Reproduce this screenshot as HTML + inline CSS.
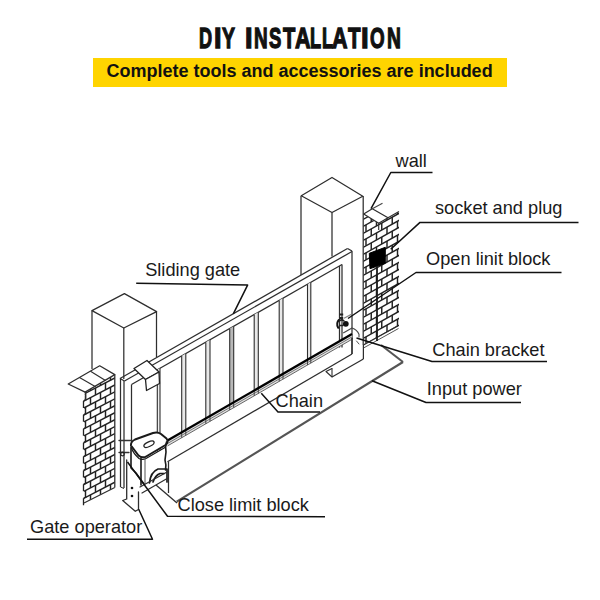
<!DOCTYPE html>
<html><head><meta charset="utf-8">
<style>
html,body{margin:0;padding:0;background:#fff;}
body{width:600px;height:600px;position:relative;overflow:hidden;font-family:"Liberation Sans",sans-serif;}
#title{position:absolute;left:0;top:0;width:600px;height:60px;}
#title span{position:absolute;top:18px;font-weight:bold;font-size:29.5px;line-height:40px;white-space:nowrap;color:#111;transform-origin:0 0;-webkit-text-stroke:1.3px #111;}
#band{position:absolute;left:93px;top:57.5px;width:413.5px;height:29.5px;background:#ffd400;}
#sub{position:absolute;left:106.5px;top:60px;font-weight:bold;font-size:18px;line-height:22px;white-space:nowrap;color:#111;}
svg{position:absolute;left:0;top:0;}
svg text{font-family:"Liberation Sans",sans-serif;font-size:18.2px;fill:#1a1a1a;}
</style></head><body>
<div id="title"><span style="left:199.48px;transform:scaleX(0.615)">D</span><span style="left:214.28px;transform:scaleX(0.917)">I</span><span style="left:222.20px;transform:scaleX(0.660)">Y</span><span style="left:244.58px;transform:scaleX(0.917)">I</span><span style="left:253.96px;transform:scaleX(0.642)">N</span><span style="left:269.30px;transform:scaleX(0.626)">S</span><span style="left:282.70px;transform:scaleX(0.683)">T</span><span style="left:294.80px;transform:scaleX(0.729)">A</span><span style="left:310.48px;transform:scaleX(0.618)">L</span><span style="left:321.98px;transform:scaleX(0.618)">L</span><span style="left:332.20px;transform:scaleX(0.729)">A</span><span style="left:347.50px;transform:scaleX(0.694)">T</span><span style="left:360.97px;transform:scaleX(0.933)">I</span><span style="left:369.86px;transform:scaleX(0.638)">O</span><span style="left:387.15px;transform:scaleX(0.653)">N</span></div>
<div id="band"></div>
<div id="sub">Complete tools and accessories are included</div>
<svg width="600" height="600" viewBox="0 0 600 600">
<defs><clipPath id="lw"><polygon points="85.5,392.1 114.8,374.6 114.8,487.5 84,503 84,396"/></clipPath><clipPath id="rw"><polygon points="363.5,214 378.7,223.3 388,217.7 399,211.5 399,326 363.5,344.5"/></clipPath></defs>
<g clip-path="url(#lw)">
<line x1="76" y1="391.21" x2="123" y2="366.77" stroke="#222" stroke-width="1.45"/>
<line x1="70.50" y1="394.07" x2="70.50" y2="401.02" stroke="#222" stroke-width="1.45"/>
<line x1="80.50" y1="388.87" x2="80.50" y2="395.82" stroke="#222" stroke-width="1.45"/>
<line x1="90.50" y1="383.67" x2="90.50" y2="390.62" stroke="#222" stroke-width="1.45"/>
<line x1="100.50" y1="378.47" x2="100.50" y2="385.42" stroke="#222" stroke-width="1.45"/>
<line x1="110.50" y1="373.27" x2="110.50" y2="380.22" stroke="#222" stroke-width="1.45"/>
<line x1="120.50" y1="368.07" x2="120.50" y2="375.02" stroke="#222" stroke-width="1.45"/>
<line x1="76" y1="398.16" x2="123" y2="373.72" stroke="#222" stroke-width="1.45"/>
<line x1="65.50" y1="403.62" x2="65.50" y2="410.57" stroke="#222" stroke-width="1.45"/>
<line x1="75.50" y1="398.42" x2="75.50" y2="405.37" stroke="#222" stroke-width="1.45"/>
<line x1="85.50" y1="393.22" x2="85.50" y2="400.17" stroke="#222" stroke-width="1.45"/>
<line x1="95.50" y1="388.02" x2="95.50" y2="394.97" stroke="#222" stroke-width="1.45"/>
<line x1="105.50" y1="382.82" x2="105.50" y2="389.77" stroke="#222" stroke-width="1.45"/>
<line x1="115.50" y1="377.62" x2="115.50" y2="384.57" stroke="#222" stroke-width="1.45"/>
<line x1="76" y1="405.11" x2="123" y2="380.67" stroke="#222" stroke-width="1.45"/>
<line x1="70.50" y1="407.97" x2="70.50" y2="414.92" stroke="#222" stroke-width="1.45"/>
<line x1="80.50" y1="402.77" x2="80.50" y2="409.72" stroke="#222" stroke-width="1.45"/>
<line x1="90.50" y1="397.57" x2="90.50" y2="404.52" stroke="#222" stroke-width="1.45"/>
<line x1="100.50" y1="392.37" x2="100.50" y2="399.32" stroke="#222" stroke-width="1.45"/>
<line x1="110.50" y1="387.17" x2="110.50" y2="394.12" stroke="#222" stroke-width="1.45"/>
<line x1="120.50" y1="381.97" x2="120.50" y2="388.92" stroke="#222" stroke-width="1.45"/>
<line x1="76" y1="412.06" x2="123" y2="387.62" stroke="#222" stroke-width="1.45"/>
<line x1="65.50" y1="417.52" x2="65.50" y2="424.47" stroke="#222" stroke-width="1.45"/>
<line x1="75.50" y1="412.32" x2="75.50" y2="419.27" stroke="#222" stroke-width="1.45"/>
<line x1="85.50" y1="407.12" x2="85.50" y2="414.07" stroke="#222" stroke-width="1.45"/>
<line x1="95.50" y1="401.92" x2="95.50" y2="408.87" stroke="#222" stroke-width="1.45"/>
<line x1="105.50" y1="396.72" x2="105.50" y2="403.67" stroke="#222" stroke-width="1.45"/>
<line x1="115.50" y1="391.52" x2="115.50" y2="398.47" stroke="#222" stroke-width="1.45"/>
<line x1="76" y1="419.01" x2="123" y2="394.57" stroke="#222" stroke-width="1.45"/>
<line x1="70.50" y1="421.87" x2="70.50" y2="428.82" stroke="#222" stroke-width="1.45"/>
<line x1="80.50" y1="416.67" x2="80.50" y2="423.62" stroke="#222" stroke-width="1.45"/>
<line x1="90.50" y1="411.47" x2="90.50" y2="418.42" stroke="#222" stroke-width="1.45"/>
<line x1="100.50" y1="406.27" x2="100.50" y2="413.22" stroke="#222" stroke-width="1.45"/>
<line x1="110.50" y1="401.07" x2="110.50" y2="408.02" stroke="#222" stroke-width="1.45"/>
<line x1="120.50" y1="395.87" x2="120.50" y2="402.82" stroke="#222" stroke-width="1.45"/>
<line x1="76" y1="425.96" x2="123" y2="401.52" stroke="#222" stroke-width="1.45"/>
<line x1="65.50" y1="431.42" x2="65.50" y2="438.37" stroke="#222" stroke-width="1.45"/>
<line x1="75.50" y1="426.22" x2="75.50" y2="433.17" stroke="#222" stroke-width="1.45"/>
<line x1="85.50" y1="421.02" x2="85.50" y2="427.97" stroke="#222" stroke-width="1.45"/>
<line x1="95.50" y1="415.82" x2="95.50" y2="422.77" stroke="#222" stroke-width="1.45"/>
<line x1="105.50" y1="410.62" x2="105.50" y2="417.57" stroke="#222" stroke-width="1.45"/>
<line x1="115.50" y1="405.42" x2="115.50" y2="412.37" stroke="#222" stroke-width="1.45"/>
<line x1="76" y1="432.91" x2="123" y2="408.47" stroke="#222" stroke-width="1.45"/>
<line x1="70.50" y1="435.77" x2="70.50" y2="442.72" stroke="#222" stroke-width="1.45"/>
<line x1="80.50" y1="430.57" x2="80.50" y2="437.52" stroke="#222" stroke-width="1.45"/>
<line x1="90.50" y1="425.37" x2="90.50" y2="432.32" stroke="#222" stroke-width="1.45"/>
<line x1="100.50" y1="420.17" x2="100.50" y2="427.12" stroke="#222" stroke-width="1.45"/>
<line x1="110.50" y1="414.97" x2="110.50" y2="421.92" stroke="#222" stroke-width="1.45"/>
<line x1="120.50" y1="409.77" x2="120.50" y2="416.72" stroke="#222" stroke-width="1.45"/>
<line x1="76" y1="439.86" x2="123" y2="415.42" stroke="#222" stroke-width="1.45"/>
<line x1="65.50" y1="445.32" x2="65.50" y2="452.27" stroke="#222" stroke-width="1.45"/>
<line x1="75.50" y1="440.12" x2="75.50" y2="447.07" stroke="#222" stroke-width="1.45"/>
<line x1="85.50" y1="434.92" x2="85.50" y2="441.87" stroke="#222" stroke-width="1.45"/>
<line x1="95.50" y1="429.72" x2="95.50" y2="436.67" stroke="#222" stroke-width="1.45"/>
<line x1="105.50" y1="424.52" x2="105.50" y2="431.47" stroke="#222" stroke-width="1.45"/>
<line x1="115.50" y1="419.32" x2="115.50" y2="426.27" stroke="#222" stroke-width="1.45"/>
<line x1="76" y1="446.81" x2="123" y2="422.37" stroke="#222" stroke-width="1.45"/>
<line x1="70.50" y1="449.67" x2="70.50" y2="456.62" stroke="#222" stroke-width="1.45"/>
<line x1="80.50" y1="444.47" x2="80.50" y2="451.42" stroke="#222" stroke-width="1.45"/>
<line x1="90.50" y1="439.27" x2="90.50" y2="446.22" stroke="#222" stroke-width="1.45"/>
<line x1="100.50" y1="434.07" x2="100.50" y2="441.02" stroke="#222" stroke-width="1.45"/>
<line x1="110.50" y1="428.87" x2="110.50" y2="435.82" stroke="#222" stroke-width="1.45"/>
<line x1="120.50" y1="423.67" x2="120.50" y2="430.62" stroke="#222" stroke-width="1.45"/>
<line x1="76" y1="453.76" x2="123" y2="429.32" stroke="#222" stroke-width="1.45"/>
<line x1="65.50" y1="459.22" x2="65.50" y2="466.17" stroke="#222" stroke-width="1.45"/>
<line x1="75.50" y1="454.02" x2="75.50" y2="460.97" stroke="#222" stroke-width="1.45"/>
<line x1="85.50" y1="448.82" x2="85.50" y2="455.77" stroke="#222" stroke-width="1.45"/>
<line x1="95.50" y1="443.62" x2="95.50" y2="450.57" stroke="#222" stroke-width="1.45"/>
<line x1="105.50" y1="438.42" x2="105.50" y2="445.37" stroke="#222" stroke-width="1.45"/>
<line x1="115.50" y1="433.22" x2="115.50" y2="440.17" stroke="#222" stroke-width="1.45"/>
<line x1="76" y1="460.71" x2="123" y2="436.27" stroke="#222" stroke-width="1.45"/>
<line x1="70.50" y1="463.57" x2="70.50" y2="470.52" stroke="#222" stroke-width="1.45"/>
<line x1="80.50" y1="458.37" x2="80.50" y2="465.32" stroke="#222" stroke-width="1.45"/>
<line x1="90.50" y1="453.17" x2="90.50" y2="460.12" stroke="#222" stroke-width="1.45"/>
<line x1="100.50" y1="447.97" x2="100.50" y2="454.92" stroke="#222" stroke-width="1.45"/>
<line x1="110.50" y1="442.77" x2="110.50" y2="449.72" stroke="#222" stroke-width="1.45"/>
<line x1="120.50" y1="437.57" x2="120.50" y2="444.52" stroke="#222" stroke-width="1.45"/>
<line x1="76" y1="467.66" x2="123" y2="443.22" stroke="#222" stroke-width="1.45"/>
<line x1="65.50" y1="473.12" x2="65.50" y2="480.07" stroke="#222" stroke-width="1.45"/>
<line x1="75.50" y1="467.92" x2="75.50" y2="474.87" stroke="#222" stroke-width="1.45"/>
<line x1="85.50" y1="462.72" x2="85.50" y2="469.67" stroke="#222" stroke-width="1.45"/>
<line x1="95.50" y1="457.52" x2="95.50" y2="464.47" stroke="#222" stroke-width="1.45"/>
<line x1="105.50" y1="452.32" x2="105.50" y2="459.27" stroke="#222" stroke-width="1.45"/>
<line x1="115.50" y1="447.12" x2="115.50" y2="454.07" stroke="#222" stroke-width="1.45"/>
<line x1="76" y1="474.61" x2="123" y2="450.17" stroke="#222" stroke-width="1.45"/>
<line x1="70.50" y1="477.47" x2="70.50" y2="484.42" stroke="#222" stroke-width="1.45"/>
<line x1="80.50" y1="472.27" x2="80.50" y2="479.22" stroke="#222" stroke-width="1.45"/>
<line x1="90.50" y1="467.07" x2="90.50" y2="474.02" stroke="#222" stroke-width="1.45"/>
<line x1="100.50" y1="461.87" x2="100.50" y2="468.82" stroke="#222" stroke-width="1.45"/>
<line x1="110.50" y1="456.67" x2="110.50" y2="463.62" stroke="#222" stroke-width="1.45"/>
<line x1="120.50" y1="451.47" x2="120.50" y2="458.42" stroke="#222" stroke-width="1.45"/>
<line x1="76" y1="481.56" x2="123" y2="457.12" stroke="#222" stroke-width="1.45"/>
<line x1="65.50" y1="487.02" x2="65.50" y2="493.97" stroke="#222" stroke-width="1.45"/>
<line x1="75.50" y1="481.82" x2="75.50" y2="488.77" stroke="#222" stroke-width="1.45"/>
<line x1="85.50" y1="476.62" x2="85.50" y2="483.57" stroke="#222" stroke-width="1.45"/>
<line x1="95.50" y1="471.42" x2="95.50" y2="478.37" stroke="#222" stroke-width="1.45"/>
<line x1="105.50" y1="466.22" x2="105.50" y2="473.17" stroke="#222" stroke-width="1.45"/>
<line x1="115.50" y1="461.02" x2="115.50" y2="467.97" stroke="#222" stroke-width="1.45"/>
<line x1="76" y1="488.51" x2="123" y2="464.07" stroke="#222" stroke-width="1.45"/>
<line x1="70.50" y1="491.37" x2="70.50" y2="498.32" stroke="#222" stroke-width="1.45"/>
<line x1="80.50" y1="486.17" x2="80.50" y2="493.12" stroke="#222" stroke-width="1.45"/>
<line x1="90.50" y1="480.97" x2="90.50" y2="487.92" stroke="#222" stroke-width="1.45"/>
<line x1="100.50" y1="475.77" x2="100.50" y2="482.72" stroke="#222" stroke-width="1.45"/>
<line x1="110.50" y1="470.57" x2="110.50" y2="477.52" stroke="#222" stroke-width="1.45"/>
<line x1="120.50" y1="465.37" x2="120.50" y2="472.32" stroke="#222" stroke-width="1.45"/>
<line x1="76" y1="495.46" x2="123" y2="471.02" stroke="#222" stroke-width="1.45"/>
<line x1="65.50" y1="500.92" x2="65.50" y2="507.87" stroke="#222" stroke-width="1.45"/>
<line x1="75.50" y1="495.72" x2="75.50" y2="502.67" stroke="#222" stroke-width="1.45"/>
<line x1="85.50" y1="490.52" x2="85.50" y2="497.47" stroke="#222" stroke-width="1.45"/>
<line x1="95.50" y1="485.32" x2="95.50" y2="492.27" stroke="#222" stroke-width="1.45"/>
<line x1="105.50" y1="480.12" x2="105.50" y2="487.07" stroke="#222" stroke-width="1.45"/>
<line x1="115.50" y1="474.92" x2="115.50" y2="481.87" stroke="#222" stroke-width="1.45"/>
<line x1="76" y1="502.41" x2="123" y2="477.97" stroke="#222" stroke-width="1.45"/>
<line x1="70.50" y1="505.27" x2="70.50" y2="512.22" stroke="#222" stroke-width="1.45"/>
<line x1="80.50" y1="500.07" x2="80.50" y2="507.02" stroke="#222" stroke-width="1.45"/>
<line x1="90.50" y1="494.87" x2="90.50" y2="501.82" stroke="#222" stroke-width="1.45"/>
<line x1="100.50" y1="489.67" x2="100.50" y2="496.62" stroke="#222" stroke-width="1.45"/>
<line x1="110.50" y1="484.47" x2="110.50" y2="491.42" stroke="#222" stroke-width="1.45"/>
<line x1="120.50" y1="479.27" x2="120.50" y2="486.22" stroke="#222" stroke-width="1.45"/>
<line x1="76" y1="509.36" x2="123" y2="484.92" stroke="#222" stroke-width="1.45"/>
<line x1="65.50" y1="514.82" x2="65.50" y2="521.77" stroke="#222" stroke-width="1.45"/>
<line x1="75.50" y1="509.62" x2="75.50" y2="516.57" stroke="#222" stroke-width="1.45"/>
<line x1="85.50" y1="504.42" x2="85.50" y2="511.37" stroke="#222" stroke-width="1.45"/>
<line x1="95.50" y1="499.22" x2="95.50" y2="506.17" stroke="#222" stroke-width="1.45"/>
<line x1="105.50" y1="494.02" x2="105.50" y2="500.97" stroke="#222" stroke-width="1.45"/>
<line x1="115.50" y1="488.82" x2="115.50" y2="495.77" stroke="#222" stroke-width="1.45"/>
<line x1="76" y1="516.31" x2="123" y2="491.87" stroke="#222" stroke-width="1.45"/>
<line x1="70.50" y1="519.17" x2="70.50" y2="526.12" stroke="#222" stroke-width="1.45"/>
<line x1="80.50" y1="513.97" x2="80.50" y2="520.92" stroke="#222" stroke-width="1.45"/>
<line x1="90.50" y1="508.77" x2="90.50" y2="515.72" stroke="#222" stroke-width="1.45"/>
<line x1="100.50" y1="503.57" x2="100.50" y2="510.52" stroke="#222" stroke-width="1.45"/>
<line x1="110.50" y1="498.37" x2="110.50" y2="505.32" stroke="#222" stroke-width="1.45"/>
<line x1="120.50" y1="493.17" x2="120.50" y2="500.12" stroke="#222" stroke-width="1.45"/>
</g>
<path d="M83.5,400.95 L86.5,399.45 M83.5,400.95 L83.5,407.90" stroke="#222" stroke-width="1.3" fill="none"/>
<path d="M83.5,414.85 L86.5,413.35 M83.5,414.85 L83.5,421.80" stroke="#222" stroke-width="1.3" fill="none"/>
<path d="M83.5,428.75 L86.5,427.25 M83.5,428.75 L83.5,435.70" stroke="#222" stroke-width="1.3" fill="none"/>
<path d="M83.5,442.65 L86.5,441.15 M83.5,442.65 L83.5,449.60" stroke="#222" stroke-width="1.3" fill="none"/>
<path d="M83.5,456.55 L86.5,455.05 M83.5,456.55 L83.5,463.50" stroke="#222" stroke-width="1.3" fill="none"/>
<path d="M83.5,470.45 L86.5,468.95 M83.5,470.45 L83.5,477.40" stroke="#222" stroke-width="1.3" fill="none"/>
<path d="M83.5,484.35 L86.5,482.85 M83.5,484.35 L83.5,491.30" stroke="#222" stroke-width="1.3" fill="none"/>
<path d="M83.5,498.25 L86.5,496.75 M83.5,498.25 L83.5,505.20" stroke="#222" stroke-width="1.3" fill="none"/>
<polygon points="68.20,384.00 99.70,365.80 114.80,374.60 85.10,392.10" fill="#fff" stroke="#2e2e2e" stroke-width="1.25" stroke-linejoin="round" />
<line x1="79.50" y1="377.50" x2="95.60" y2="386.80" stroke="#2e2e2e" stroke-width="1.15" />
<line x1="90.50" y1="371.20" x2="105.50" y2="380.50" stroke="#2e2e2e" stroke-width="1.15" />
<line x1="114.80" y1="374.60" x2="114.80" y2="487.50" stroke="#2e2e2e" stroke-width="1.25" />
<line x1="114.80" y1="487.50" x2="84.00" y2="503.00" stroke="#2e2e2e" stroke-width="1.25" />
<path d="M85.1,392.1 Q86,394 85.5,400" fill="none" stroke="#2e2e2e" stroke-width="1.25" stroke-linejoin="round" stroke-linecap="round" />
<g clip-path="url(#rw)">
<line x1="355" y1="223.98" x2="407" y2="194.86" stroke="#222" stroke-width="1.45"/>
<line x1="350.25" y1="226.64" x2="350.25" y2="233.64" stroke="#222" stroke-width="1.45"/>
<line x1="360.75" y1="220.76" x2="360.75" y2="227.76" stroke="#222" stroke-width="1.45"/>
<line x1="371.25" y1="214.88" x2="371.25" y2="221.88" stroke="#222" stroke-width="1.45"/>
<line x1="381.75" y1="209.00" x2="381.75" y2="216.00" stroke="#222" stroke-width="1.45"/>
<line x1="392.25" y1="203.12" x2="392.25" y2="210.12" stroke="#222" stroke-width="1.45"/>
<line x1="402.75" y1="197.24" x2="402.75" y2="204.24" stroke="#222" stroke-width="1.45"/>
<line x1="355" y1="230.98" x2="407" y2="201.86" stroke="#222" stroke-width="1.45"/>
<line x1="345.00" y1="236.58" x2="345.00" y2="243.58" stroke="#222" stroke-width="1.45"/>
<line x1="355.50" y1="230.70" x2="355.50" y2="237.70" stroke="#222" stroke-width="1.45"/>
<line x1="366.00" y1="224.82" x2="366.00" y2="231.82" stroke="#222" stroke-width="1.45"/>
<line x1="376.50" y1="218.94" x2="376.50" y2="225.94" stroke="#222" stroke-width="1.45"/>
<line x1="387.00" y1="213.06" x2="387.00" y2="220.06" stroke="#222" stroke-width="1.45"/>
<line x1="397.50" y1="207.18" x2="397.50" y2="214.18" stroke="#222" stroke-width="1.45"/>
<line x1="408.00" y1="201.30" x2="408.00" y2="208.30" stroke="#222" stroke-width="1.45"/>
<line x1="355" y1="237.98" x2="407" y2="208.86" stroke="#222" stroke-width="1.45"/>
<line x1="350.25" y1="240.64" x2="350.25" y2="247.64" stroke="#222" stroke-width="1.45"/>
<line x1="360.75" y1="234.76" x2="360.75" y2="241.76" stroke="#222" stroke-width="1.45"/>
<line x1="371.25" y1="228.88" x2="371.25" y2="235.88" stroke="#222" stroke-width="1.45"/>
<line x1="381.75" y1="223.00" x2="381.75" y2="230.00" stroke="#222" stroke-width="1.45"/>
<line x1="392.25" y1="217.12" x2="392.25" y2="224.12" stroke="#222" stroke-width="1.45"/>
<line x1="402.75" y1="211.24" x2="402.75" y2="218.24" stroke="#222" stroke-width="1.45"/>
<line x1="355" y1="244.98" x2="407" y2="215.86" stroke="#222" stroke-width="1.45"/>
<line x1="345.00" y1="250.58" x2="345.00" y2="257.58" stroke="#222" stroke-width="1.45"/>
<line x1="355.50" y1="244.70" x2="355.50" y2="251.70" stroke="#222" stroke-width="1.45"/>
<line x1="366.00" y1="238.82" x2="366.00" y2="245.82" stroke="#222" stroke-width="1.45"/>
<line x1="376.50" y1="232.94" x2="376.50" y2="239.94" stroke="#222" stroke-width="1.45"/>
<line x1="387.00" y1="227.06" x2="387.00" y2="234.06" stroke="#222" stroke-width="1.45"/>
<line x1="397.50" y1="221.18" x2="397.50" y2="228.18" stroke="#222" stroke-width="1.45"/>
<line x1="408.00" y1="215.30" x2="408.00" y2="222.30" stroke="#222" stroke-width="1.45"/>
<line x1="355" y1="251.98" x2="407" y2="222.86" stroke="#222" stroke-width="1.45"/>
<line x1="350.25" y1="254.64" x2="350.25" y2="261.64" stroke="#222" stroke-width="1.45"/>
<line x1="360.75" y1="248.76" x2="360.75" y2="255.76" stroke="#222" stroke-width="1.45"/>
<line x1="371.25" y1="242.88" x2="371.25" y2="249.88" stroke="#222" stroke-width="1.45"/>
<line x1="381.75" y1="237.00" x2="381.75" y2="244.00" stroke="#222" stroke-width="1.45"/>
<line x1="392.25" y1="231.12" x2="392.25" y2="238.12" stroke="#222" stroke-width="1.45"/>
<line x1="402.75" y1="225.24" x2="402.75" y2="232.24" stroke="#222" stroke-width="1.45"/>
<line x1="355" y1="258.98" x2="407" y2="229.86" stroke="#222" stroke-width="1.45"/>
<line x1="345.00" y1="264.58" x2="345.00" y2="271.58" stroke="#222" stroke-width="1.45"/>
<line x1="355.50" y1="258.70" x2="355.50" y2="265.70" stroke="#222" stroke-width="1.45"/>
<line x1="366.00" y1="252.82" x2="366.00" y2="259.82" stroke="#222" stroke-width="1.45"/>
<line x1="376.50" y1="246.94" x2="376.50" y2="253.94" stroke="#222" stroke-width="1.45"/>
<line x1="387.00" y1="241.06" x2="387.00" y2="248.06" stroke="#222" stroke-width="1.45"/>
<line x1="397.50" y1="235.18" x2="397.50" y2="242.18" stroke="#222" stroke-width="1.45"/>
<line x1="408.00" y1="229.30" x2="408.00" y2="236.30" stroke="#222" stroke-width="1.45"/>
<line x1="355" y1="265.98" x2="407" y2="236.86" stroke="#222" stroke-width="1.45"/>
<line x1="350.25" y1="268.64" x2="350.25" y2="275.64" stroke="#222" stroke-width="1.45"/>
<line x1="360.75" y1="262.76" x2="360.75" y2="269.76" stroke="#222" stroke-width="1.45"/>
<line x1="371.25" y1="256.88" x2="371.25" y2="263.88" stroke="#222" stroke-width="1.45"/>
<line x1="381.75" y1="251.00" x2="381.75" y2="258.00" stroke="#222" stroke-width="1.45"/>
<line x1="392.25" y1="245.12" x2="392.25" y2="252.12" stroke="#222" stroke-width="1.45"/>
<line x1="402.75" y1="239.24" x2="402.75" y2="246.24" stroke="#222" stroke-width="1.45"/>
<line x1="355" y1="272.98" x2="407" y2="243.86" stroke="#222" stroke-width="1.45"/>
<line x1="345.00" y1="278.58" x2="345.00" y2="285.58" stroke="#222" stroke-width="1.45"/>
<line x1="355.50" y1="272.70" x2="355.50" y2="279.70" stroke="#222" stroke-width="1.45"/>
<line x1="366.00" y1="266.82" x2="366.00" y2="273.82" stroke="#222" stroke-width="1.45"/>
<line x1="376.50" y1="260.94" x2="376.50" y2="267.94" stroke="#222" stroke-width="1.45"/>
<line x1="387.00" y1="255.06" x2="387.00" y2="262.06" stroke="#222" stroke-width="1.45"/>
<line x1="397.50" y1="249.18" x2="397.50" y2="256.18" stroke="#222" stroke-width="1.45"/>
<line x1="408.00" y1="243.30" x2="408.00" y2="250.30" stroke="#222" stroke-width="1.45"/>
<line x1="355" y1="279.98" x2="407" y2="250.86" stroke="#222" stroke-width="1.45"/>
<line x1="350.25" y1="282.64" x2="350.25" y2="289.64" stroke="#222" stroke-width="1.45"/>
<line x1="360.75" y1="276.76" x2="360.75" y2="283.76" stroke="#222" stroke-width="1.45"/>
<line x1="371.25" y1="270.88" x2="371.25" y2="277.88" stroke="#222" stroke-width="1.45"/>
<line x1="381.75" y1="265.00" x2="381.75" y2="272.00" stroke="#222" stroke-width="1.45"/>
<line x1="392.25" y1="259.12" x2="392.25" y2="266.12" stroke="#222" stroke-width="1.45"/>
<line x1="402.75" y1="253.24" x2="402.75" y2="260.24" stroke="#222" stroke-width="1.45"/>
<line x1="355" y1="286.98" x2="407" y2="257.86" stroke="#222" stroke-width="1.45"/>
<line x1="345.00" y1="292.58" x2="345.00" y2="299.58" stroke="#222" stroke-width="1.45"/>
<line x1="355.50" y1="286.70" x2="355.50" y2="293.70" stroke="#222" stroke-width="1.45"/>
<line x1="366.00" y1="280.82" x2="366.00" y2="287.82" stroke="#222" stroke-width="1.45"/>
<line x1="376.50" y1="274.94" x2="376.50" y2="281.94" stroke="#222" stroke-width="1.45"/>
<line x1="387.00" y1="269.06" x2="387.00" y2="276.06" stroke="#222" stroke-width="1.45"/>
<line x1="397.50" y1="263.18" x2="397.50" y2="270.18" stroke="#222" stroke-width="1.45"/>
<line x1="408.00" y1="257.30" x2="408.00" y2="264.30" stroke="#222" stroke-width="1.45"/>
<line x1="355" y1="293.98" x2="407" y2="264.86" stroke="#222" stroke-width="1.45"/>
<line x1="350.25" y1="296.64" x2="350.25" y2="303.64" stroke="#222" stroke-width="1.45"/>
<line x1="360.75" y1="290.76" x2="360.75" y2="297.76" stroke="#222" stroke-width="1.45"/>
<line x1="371.25" y1="284.88" x2="371.25" y2="291.88" stroke="#222" stroke-width="1.45"/>
<line x1="381.75" y1="279.00" x2="381.75" y2="286.00" stroke="#222" stroke-width="1.45"/>
<line x1="392.25" y1="273.12" x2="392.25" y2="280.12" stroke="#222" stroke-width="1.45"/>
<line x1="402.75" y1="267.24" x2="402.75" y2="274.24" stroke="#222" stroke-width="1.45"/>
<line x1="355" y1="300.98" x2="407" y2="271.86" stroke="#222" stroke-width="1.45"/>
<line x1="345.00" y1="306.58" x2="345.00" y2="313.58" stroke="#222" stroke-width="1.45"/>
<line x1="355.50" y1="300.70" x2="355.50" y2="307.70" stroke="#222" stroke-width="1.45"/>
<line x1="366.00" y1="294.82" x2="366.00" y2="301.82" stroke="#222" stroke-width="1.45"/>
<line x1="376.50" y1="288.94" x2="376.50" y2="295.94" stroke="#222" stroke-width="1.45"/>
<line x1="387.00" y1="283.06" x2="387.00" y2="290.06" stroke="#222" stroke-width="1.45"/>
<line x1="397.50" y1="277.18" x2="397.50" y2="284.18" stroke="#222" stroke-width="1.45"/>
<line x1="408.00" y1="271.30" x2="408.00" y2="278.30" stroke="#222" stroke-width="1.45"/>
<line x1="355" y1="307.98" x2="407" y2="278.86" stroke="#222" stroke-width="1.45"/>
<line x1="350.25" y1="310.64" x2="350.25" y2="317.64" stroke="#222" stroke-width="1.45"/>
<line x1="360.75" y1="304.76" x2="360.75" y2="311.76" stroke="#222" stroke-width="1.45"/>
<line x1="371.25" y1="298.88" x2="371.25" y2="305.88" stroke="#222" stroke-width="1.45"/>
<line x1="381.75" y1="293.00" x2="381.75" y2="300.00" stroke="#222" stroke-width="1.45"/>
<line x1="392.25" y1="287.12" x2="392.25" y2="294.12" stroke="#222" stroke-width="1.45"/>
<line x1="402.75" y1="281.24" x2="402.75" y2="288.24" stroke="#222" stroke-width="1.45"/>
<line x1="355" y1="314.98" x2="407" y2="285.86" stroke="#222" stroke-width="1.45"/>
<line x1="345.00" y1="320.58" x2="345.00" y2="327.58" stroke="#222" stroke-width="1.45"/>
<line x1="355.50" y1="314.70" x2="355.50" y2="321.70" stroke="#222" stroke-width="1.45"/>
<line x1="366.00" y1="308.82" x2="366.00" y2="315.82" stroke="#222" stroke-width="1.45"/>
<line x1="376.50" y1="302.94" x2="376.50" y2="309.94" stroke="#222" stroke-width="1.45"/>
<line x1="387.00" y1="297.06" x2="387.00" y2="304.06" stroke="#222" stroke-width="1.45"/>
<line x1="397.50" y1="291.18" x2="397.50" y2="298.18" stroke="#222" stroke-width="1.45"/>
<line x1="408.00" y1="285.30" x2="408.00" y2="292.30" stroke="#222" stroke-width="1.45"/>
<line x1="355" y1="321.98" x2="407" y2="292.86" stroke="#222" stroke-width="1.45"/>
<line x1="350.25" y1="324.64" x2="350.25" y2="331.64" stroke="#222" stroke-width="1.45"/>
<line x1="360.75" y1="318.76" x2="360.75" y2="325.76" stroke="#222" stroke-width="1.45"/>
<line x1="371.25" y1="312.88" x2="371.25" y2="319.88" stroke="#222" stroke-width="1.45"/>
<line x1="381.75" y1="307.00" x2="381.75" y2="314.00" stroke="#222" stroke-width="1.45"/>
<line x1="392.25" y1="301.12" x2="392.25" y2="308.12" stroke="#222" stroke-width="1.45"/>
<line x1="402.75" y1="295.24" x2="402.75" y2="302.24" stroke="#222" stroke-width="1.45"/>
<line x1="355" y1="328.98" x2="407" y2="299.86" stroke="#222" stroke-width="1.45"/>
<line x1="345.00" y1="334.58" x2="345.00" y2="341.58" stroke="#222" stroke-width="1.45"/>
<line x1="355.50" y1="328.70" x2="355.50" y2="335.70" stroke="#222" stroke-width="1.45"/>
<line x1="366.00" y1="322.82" x2="366.00" y2="329.82" stroke="#222" stroke-width="1.45"/>
<line x1="376.50" y1="316.94" x2="376.50" y2="323.94" stroke="#222" stroke-width="1.45"/>
<line x1="387.00" y1="311.06" x2="387.00" y2="318.06" stroke="#222" stroke-width="1.45"/>
<line x1="397.50" y1="305.18" x2="397.50" y2="312.18" stroke="#222" stroke-width="1.45"/>
<line x1="408.00" y1="299.30" x2="408.00" y2="306.30" stroke="#222" stroke-width="1.45"/>
<line x1="355" y1="335.98" x2="407" y2="306.86" stroke="#222" stroke-width="1.45"/>
<line x1="350.25" y1="338.64" x2="350.25" y2="345.64" stroke="#222" stroke-width="1.45"/>
<line x1="360.75" y1="332.76" x2="360.75" y2="339.76" stroke="#222" stroke-width="1.45"/>
<line x1="371.25" y1="326.88" x2="371.25" y2="333.88" stroke="#222" stroke-width="1.45"/>
<line x1="381.75" y1="321.00" x2="381.75" y2="328.00" stroke="#222" stroke-width="1.45"/>
<line x1="392.25" y1="315.12" x2="392.25" y2="322.12" stroke="#222" stroke-width="1.45"/>
<line x1="402.75" y1="309.24" x2="402.75" y2="316.24" stroke="#222" stroke-width="1.45"/>
<line x1="355" y1="342.98" x2="407" y2="313.86" stroke="#222" stroke-width="1.45"/>
<line x1="345.00" y1="348.58" x2="345.00" y2="355.58" stroke="#222" stroke-width="1.45"/>
<line x1="355.50" y1="342.70" x2="355.50" y2="349.70" stroke="#222" stroke-width="1.45"/>
<line x1="366.00" y1="336.82" x2="366.00" y2="343.82" stroke="#222" stroke-width="1.45"/>
<line x1="376.50" y1="330.94" x2="376.50" y2="337.94" stroke="#222" stroke-width="1.45"/>
<line x1="387.00" y1="325.06" x2="387.00" y2="332.06" stroke="#222" stroke-width="1.45"/>
<line x1="397.50" y1="319.18" x2="397.50" y2="326.18" stroke="#222" stroke-width="1.45"/>
<line x1="408.00" y1="313.30" x2="408.00" y2="320.30" stroke="#222" stroke-width="1.45"/>
<line x1="355" y1="349.98" x2="407" y2="320.86" stroke="#222" stroke-width="1.45"/>
<line x1="350.25" y1="352.64" x2="350.25" y2="359.64" stroke="#222" stroke-width="1.45"/>
<line x1="360.75" y1="346.76" x2="360.75" y2="353.76" stroke="#222" stroke-width="1.45"/>
<line x1="371.25" y1="340.88" x2="371.25" y2="347.88" stroke="#222" stroke-width="1.45"/>
<line x1="381.75" y1="335.00" x2="381.75" y2="342.00" stroke="#222" stroke-width="1.45"/>
<line x1="392.25" y1="329.12" x2="392.25" y2="336.12" stroke="#222" stroke-width="1.45"/>
<line x1="402.75" y1="323.24" x2="402.75" y2="330.24" stroke="#222" stroke-width="1.45"/>
<line x1="355" y1="356.98" x2="407" y2="327.86" stroke="#222" stroke-width="1.45"/>
<line x1="345.00" y1="362.58" x2="345.00" y2="369.58" stroke="#222" stroke-width="1.45"/>
<line x1="355.50" y1="356.70" x2="355.50" y2="363.70" stroke="#222" stroke-width="1.45"/>
<line x1="366.00" y1="350.82" x2="366.00" y2="357.82" stroke="#222" stroke-width="1.45"/>
<line x1="376.50" y1="344.94" x2="376.50" y2="351.94" stroke="#222" stroke-width="1.45"/>
<line x1="387.00" y1="339.06" x2="387.00" y2="346.06" stroke="#222" stroke-width="1.45"/>
<line x1="397.50" y1="333.18" x2="397.50" y2="340.18" stroke="#222" stroke-width="1.45"/>
<line x1="408.00" y1="327.30" x2="408.00" y2="334.30" stroke="#222" stroke-width="1.45"/>
</g>
<polygon points="363.70,214.00 372.30,208.70 388.00,217.70 378.70,223.30" fill="#fff" stroke="#2e2e2e" stroke-width="1.25" stroke-linejoin="round" />
<line x1="388.00" y1="217.70" x2="399.00" y2="211.50" stroke="#2e2e2e" stroke-width="1.15" />
<line x1="372.30" y1="208.70" x2="382.50" y2="203.30" stroke="#444" stroke-width="1.1" />
<line x1="378.70" y1="223.30" x2="378.70" y2="230.00" stroke="#2e2e2e" stroke-width="1.15" />
<line x1="363.50" y1="345.00" x2="398.50" y2="325.50" stroke="#2e2e2e" stroke-width="1.25" />
<line x1="363.50" y1="348.00" x2="398.50" y2="328.50" stroke="#555" stroke-width="1.0" />
<polygon points="369.30,253.30 385.30,247.30 385.30,263.30 370.00,268.70" fill="#000" stroke="#000" stroke-width="1" stroke-linejoin="round" />
<line x1="377.00" y1="266.00" x2="377.00" y2="341.00" stroke="#1a1a1a" stroke-width="1.8" />
<polygon points="124.40,293.60 92.00,310.60 123.80,328.00 156.60,311.60" fill="#fff" stroke="#2e2e2e" stroke-width="1.25" stroke-linejoin="round" />
<line x1="92.00" y1="310.60" x2="92.00" y2="369.00" stroke="#2e2e2e" stroke-width="1.25" />
<line x1="123.80" y1="328.00" x2="123.80" y2="379.00" stroke="#2e2e2e" stroke-width="1.25" />
<line x1="156.50" y1="311.60" x2="156.50" y2="357.00" stroke="#2e2e2e" stroke-width="1.25" />
<polygon points="332.00,177.50 301.25,195.75 332.00,212.50 362.80,196.25" fill="#fff" stroke="#2e2e2e" stroke-width="1.25" stroke-linejoin="round" />
<line x1="301.00" y1="196.00" x2="301.00" y2="275.00" stroke="#2e2e2e" stroke-width="1.25" />
<line x1="332.00" y1="212.50" x2="332.00" y2="256.50" stroke="#2e2e2e" stroke-width="1.25" />
<line x1="363.20" y1="196.00" x2="363.20" y2="345.00" stroke="#2e2e2e" stroke-width="1.25" />
<line x1="120.00" y1="378.50" x2="347.50" y2="248.50" stroke="#2e2e2e" stroke-width="1.25" />
<line x1="347.50" y1="248.50" x2="352.00" y2="251.00" stroke="#2e2e2e" stroke-width="1.25" />
<line x1="124.50" y1="381.00" x2="352.00" y2="251.50" stroke="#2e2e2e" stroke-width="1.25" />
<line x1="120.00" y1="378.50" x2="124.50" y2="381.00" stroke="#2e2e2e" stroke-width="1.25" />
<line x1="131.50" y1="384.50" x2="342.00" y2="264.50" stroke="#2e2e2e" stroke-width="1.25" />
<line x1="120.50" y1="378.50" x2="120.50" y2="487.00" stroke="#2e2e2e" stroke-width="1.25" />
<line x1="124.00" y1="381.00" x2="124.00" y2="488.00" stroke="#2e2e2e" stroke-width="1.25" />
<line x1="131.50" y1="384.50" x2="131.50" y2="446.00" stroke="#2e2e2e" stroke-width="1.25" />
<line x1="120.50" y1="487.00" x2="124.00" y2="488.50" stroke="#2e2e2e" stroke-width="1.0" />
<line x1="352.00" y1="251.00" x2="352.00" y2="354.00" stroke="#2e2e2e" stroke-width="1.25" />
<line x1="339.50" y1="266.00" x2="339.50" y2="347.50" stroke="#2e2e2e" stroke-width="1.25" />
<line x1="342.00" y1="264.50" x2="342.00" y2="347.50" stroke="#2e2e2e" stroke-width="1.25" />
<polygon points="157.30,369.79 160.00,368.25 160.00,444.96 157.30,446.52" fill="#eee"/>
<line x1="157.30" y1="369.79" x2="157.30" y2="446.52" stroke="#2e2e2e" stroke-width="1.1" />
<line x1="160.00" y1="368.25" x2="160.00" y2="444.96" stroke="#2e2e2e" stroke-width="1.1" />
<polygon points="181.70,355.89 185.80,353.55 185.80,430.05 181.70,432.42" fill="#e8e8e8"/>
<line x1="181.70" y1="355.89" x2="181.70" y2="432.42" stroke="#2e2e2e" stroke-width="1.1" />
<line x1="185.80" y1="353.55" x2="185.80" y2="430.05" stroke="#2e2e2e" stroke-width="1.1" />
<polygon points="205.80,342.15 210.00,339.75 210.00,416.06 205.80,418.49" fill="#e8e8e8"/>
<line x1="205.80" y1="342.15" x2="205.80" y2="418.49" stroke="#2e2e2e" stroke-width="1.1" />
<line x1="210.00" y1="339.75" x2="210.00" y2="416.06" stroke="#2e2e2e" stroke-width="1.1" />
<polygon points="229.70,328.53 233.70,326.25 233.70,402.36 229.70,404.67" fill="#b8b8b8"/>
<line x1="229.70" y1="328.53" x2="229.70" y2="404.67" stroke="#2e2e2e" stroke-width="1.1" />
<line x1="233.70" y1="326.25" x2="233.70" y2="402.36" stroke="#2e2e2e" stroke-width="1.1" />
<polygon points="254.20,314.56 258.30,312.22 258.30,388.14 254.20,390.51" fill="#e8e8e8"/>
<line x1="254.20" y1="314.56" x2="254.20" y2="390.51" stroke="#2e2e2e" stroke-width="1.1" />
<line x1="258.30" y1="312.22" x2="258.30" y2="388.14" stroke="#2e2e2e" stroke-width="1.1" />
<polygon points="279.20,300.31 283.00,298.14 283.00,373.87 279.20,376.06" fill="#e8e8e8"/>
<line x1="279.20" y1="300.31" x2="279.20" y2="376.06" stroke="#2e2e2e" stroke-width="1.1" />
<line x1="283.00" y1="298.14" x2="283.00" y2="373.87" stroke="#2e2e2e" stroke-width="1.1" />
<polygon points="307.50,284.18 310.80,282.30 310.80,357.80 307.50,359.70" fill="#e8e8e8"/>
<line x1="307.50" y1="284.18" x2="307.50" y2="359.70" stroke="#2e2e2e" stroke-width="1.1" />
<line x1="310.80" y1="282.30" x2="310.80" y2="357.80" stroke="#2e2e2e" stroke-width="1.1" />
<polygon points="134.00,368.50 147.00,360.50 159.00,372.00 145.50,379.50" fill="#fff" stroke="#222" stroke-width="1.3" stroke-linejoin="round" />
<polygon points="145.50,379.50 159.00,372.00 159.50,383.50 146.50,390.50" fill="#fff" stroke="#222" stroke-width="1.3" stroke-linejoin="round" />
<polygon points="167.5,441.12 352,334.48 352,339.18 167.5,445.82" fill="#e2e2e2"/>
<line x1="167.50" y1="443.52" x2="352.00" y2="336.88" stroke="#666" stroke-width="0.9" />
<line x1="167.50" y1="445.93" x2="352.00" y2="339.28" stroke="#555" stroke-width="0.9" />
<line x1="157.30" y1="446.52" x2="157.30" y2="451.82" stroke="#444" stroke-width="1.0" />
<line x1="160.00" y1="444.96" x2="160.00" y2="450.26" stroke="#444" stroke-width="1.0" />
<line x1="181.70" y1="432.42" x2="181.70" y2="437.72" stroke="#444" stroke-width="1.0" />
<line x1="185.80" y1="430.05" x2="185.80" y2="435.35" stroke="#444" stroke-width="1.0" />
<line x1="205.80" y1="418.49" x2="205.80" y2="423.79" stroke="#444" stroke-width="1.0" />
<line x1="210.00" y1="416.06" x2="210.00" y2="421.36" stroke="#444" stroke-width="1.0" />
<line x1="229.70" y1="404.67" x2="229.70" y2="409.97" stroke="#444" stroke-width="1.0" />
<line x1="233.70" y1="402.36" x2="233.70" y2="407.66" stroke="#444" stroke-width="1.0" />
<line x1="254.20" y1="390.51" x2="254.20" y2="395.81" stroke="#444" stroke-width="1.0" />
<line x1="258.30" y1="388.14" x2="258.30" y2="393.44" stroke="#444" stroke-width="1.0" />
<line x1="279.20" y1="376.06" x2="279.20" y2="381.36" stroke="#444" stroke-width="1.0" />
<line x1="283.00" y1="373.87" x2="283.00" y2="379.17" stroke="#444" stroke-width="1.0" />
<line x1="307.50" y1="359.70" x2="307.50" y2="365.00" stroke="#444" stroke-width="1.0" />
<line x1="310.80" y1="357.80" x2="310.80" y2="363.10" stroke="#444" stroke-width="1.0" />
<line x1="167.50" y1="440.62" x2="352.00" y2="333.98" stroke="#000" stroke-width="2.3" />
<line x1="167.50" y1="461.70" x2="352.00" y2="354.00" stroke="#2e2e2e" stroke-width="1.25" />
<line x1="352.00" y1="339.00" x2="352.00" y2="354.00" stroke="#2e2e2e" stroke-width="1.25" />
<line x1="168.50" y1="461.70" x2="168.50" y2="493.00" stroke="#2e2e2e" stroke-width="1.25" />
<line x1="343.20" y1="333.00" x2="352.00" y2="328.00" stroke="#444" stroke-width="1.1" />
<path d="M352,328 Q357,329.5 359,334.3 L359,337" fill="none" stroke="#444" stroke-width="1.1" stroke-linejoin="round" stroke-linecap="round" />
<path d="M356.5,341 L359,344" fill="none" stroke="#555" stroke-width="1.0" stroke-linejoin="round" stroke-linecap="round" />
<line x1="363.40" y1="345.00" x2="363.40" y2="359.00" stroke="#2e2e2e" stroke-width="1.25" />
<line x1="363.40" y1="359.00" x2="332.00" y2="377.00" stroke="#2e2e2e" stroke-width="1.25" />
<path d="M332,368.5 L326,371.5 L332,377" fill="none" stroke="#2e2e2e" stroke-width="1.1" stroke-linejoin="round" stroke-linecap="round" />
<line x1="332.00" y1="368.50" x2="332.00" y2="377.00" stroke="#2e2e2e" stroke-width="1.1" />
<circle cx="352" cy="338.3" r="0.9" fill="#222"/>
<path d="M338.8,320 Q335.8,323.5 338.2,327.8" fill="none" stroke="#111" stroke-width="2.0" stroke-linejoin="round" stroke-linecap="round" />
<circle cx="345.8" cy="323.8" r="2.9" fill="#111"/>
<rect x="339.6" y="313.5" width="3.6" height="2" fill="#222"/>
<rect x="339.6" y="317" width="3.6" height="2" fill="#222"/>
<path d="M340,320.5 Q342,319 344,321 M340,325.5 L343,325.5" fill="none" stroke="#222" stroke-width="1.6" stroke-linejoin="round" stroke-linecap="round" />
<path d="M344.5,318 L351,314.5" fill="none" stroke="#888" stroke-width="1.4" stroke-linejoin="round" stroke-linecap="round" />
<line x1="403.00" y1="362.00" x2="176.70" y2="501.70" stroke="#555" stroke-width="2.1" />
<line x1="403.00" y1="362.00" x2="381.00" y2="345.00" stroke="#555" stroke-width="2.1" />
<line x1="156.00" y1="485.00" x2="177.00" y2="503.00" stroke="#2e2e2e" stroke-width="1.3" />
<g transform="translate(0,1)">
<path d="M131,444.5 Q130.5,441 135,438.5 L153,432 Q157.5,430.5 161,433 L166.5,437.5 Q169,441 165.5,444 L147,455 Q142.5,458 138.5,454.5 Z" fill="#fff" stroke="#1a1a1a" stroke-width="2.0" stroke-linejoin="round" stroke-linecap="round" />
<path d="M131.5,447 Q133,452 139,457.5 Q142,459.5 146,457.5 L165,446.5" fill="none" stroke="#1a1a1a" stroke-width="1.2" stroke-linejoin="round" stroke-linecap="round" />
<ellipse cx="149" cy="443.2" rx="5.5" ry="2.3" transform="rotate(-25 149 443.2)" fill="none" stroke="#222" stroke-width="1.3"/>
</g>
<path d="M131,447 L131,468 L136,473 L141,480 L144,484" fill="none" stroke="#1a1a1a" stroke-width="1.6" stroke-linejoin="round" stroke-linecap="round" />
<path d="M141,458 L141,485" fill="none" stroke="#1a1a1a" stroke-width="1.6" stroke-linejoin="round" stroke-linecap="round" />
<path d="M145,459 L145,484" fill="none" stroke="#555" stroke-width="1.0" stroke-linejoin="round" stroke-linecap="round" />
<path d="M166.5,442 Q165,447 166,452 L165,460 Q166.5,465 165.5,470" fill="none" stroke="#1a1a1a" stroke-width="1.6" stroke-linejoin="round" stroke-linecap="round" />
<path d="M149.5,483 Q150.5,472 158,469 L167,469 L167,482 M153,482 Q155,475.5 160,473.5 L164,473.5" fill="none" stroke="#1a1a1a" stroke-width="1.7" stroke-linejoin="round" stroke-linecap="round" />
<path d="M140,487 L168,471.5 M142,493 L168,478" fill="none" stroke="#2e2e2e" stroke-width="1.2" stroke-linejoin="round" stroke-linecap="round" />
<path d="M119,440.5 L132,440.5 M119,452.5 L129,452.5" fill="none" stroke="#333" stroke-width="1.3" stroke-linejoin="round" stroke-linecap="round" />
<circle cx="122.5" cy="454" r="1.8" fill="none" stroke="#222" stroke-width="1.2"/>
<path d="M126.7,460 L126.7,499 L122.7,500.5 L135.3,511.3 L138.5,509.5 L138.5,492" fill="none" stroke="#2e2e2e" stroke-width="1.3" stroke-linejoin="round" stroke-linecap="round" />
<circle cx="132" cy="488" r="1.3" fill="#111"/><circle cx="132" cy="496" r="1.3" fill="#111"/>
<polyline points="371.00,208.70 390.80,172.50 432.50,172.50" fill="none" stroke="#111" stroke-width="1.5" stroke-linejoin="round" />
<polyline points="390.70,249.30 420.00,222.40 578.50,222.40" fill="none" stroke="#111" stroke-width="1.5" stroke-linejoin="round" />
<polyline points="348.00,318.50 416.00,272.50 561.50,272.50" fill="none" stroke="#111" stroke-width="1.5" stroke-linejoin="round" />
<polyline points="356.50,338.00 432.00,361.50 547.00,361.50" fill="none" stroke="#111" stroke-width="1.5" stroke-linejoin="round" />
<polyline points="372.00,380.70 426.00,402.50 521.00,402.50" fill="none" stroke="#111" stroke-width="1.5" stroke-linejoin="round" />
<polyline points="136.20,283.30 247.60,285.10 233.30,313.90" fill="none" stroke="#111" stroke-width="1.5" stroke-linejoin="round" />
<polyline points="261.30,393.30 278.00,412.00 320.00,412.00" fill="none" stroke="#111" stroke-width="1.5" stroke-linejoin="round" />
<polyline points="127.50,462.00 167.50,516.30 325.00,516.70" fill="none" stroke="#111" stroke-width="1.5" stroke-linejoin="round" />
<polyline points="27.00,539.20 152.50,539.20 138.70,509.30" fill="none" stroke="#111" stroke-width="1.5" stroke-linejoin="round" />
<text x="395.50" y="166.70">wall</text>
<text x="435.00" y="214.40">socket and plug</text>
<text x="426.10" y="264.70">Open linit block</text>
<text x="432.30" y="355.50">Chain bracket</text>
<text x="426.80" y="394.50">Input power</text>
<text x="145.20" y="275.80">Sliding gate</text>
<text x="275.50" y="407.30">Chain</text>
<text x="177.50" y="510.80">Close limit block</text>
<text x="30.05" y="532.50">Gate operator</text>
</svg>
</body></html>
